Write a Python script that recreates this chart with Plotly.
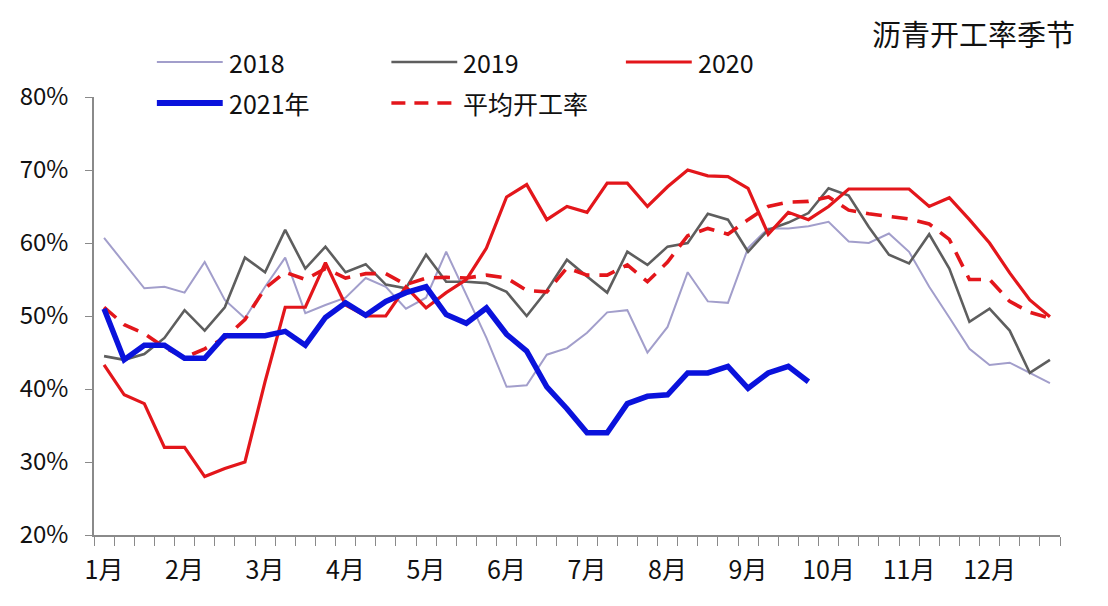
import plotly.graph_objects as go
import numpy as np

# ---- data ----
weeks = list(range(48))
month_labels = ["1月", "2月", "3月", "4月", "5月", "6月", "7月", "8月", "9月", "10月", "11月", "12月"]
month_pos = [0, 4, 8, 12, 16, 20, 24, 28, 32, 36, 40, 44]
y_ticks = [20, 30, 40, 50, 60, 70, 80]
y_tick_labels = ["20%", "30%", "40%", "50%", "60%", "70%", "80%"]

y2018 = [60.7, 57.2, 53.8, 54.0, 53.2, 57.4, 52.2, 49.7, 54.0, 58.0, 50.4, 51.5,
         52.5, 55.2, 54.0, 51.0, 52.5, 58.8, 53.0, 47.0, 40.3, 40.5, 44.7, 45.6,
         47.7, 50.5, 50.8, 45.0, 48.5, 56.0, 52.0, 51.8, 59.3, 62.0, 62.0, 62.3,
         62.9, 60.2, 60.0, 61.3, 58.8, 54.0, 49.8, 45.5, 43.3, 43.6, 42.2, 40.8]
y2019 = [44.5, 44.0, 44.8, 47.0, 50.8, 48.0, 51.2, 58.0, 56.0, 61.8, 56.5, 59.5,
         56.0, 57.1, 54.3, 53.8, 58.4, 54.7, 54.7, 54.5, 53.3, 50.0, 53.5, 57.7,
         55.4, 53.2, 58.8, 57.0, 59.5, 60.0, 64.0, 63.2, 58.8, 61.8, 62.8, 64.1,
         67.5, 66.5, 62.2, 58.4, 57.2, 61.2, 56.5, 49.2, 51.0, 48.0, 42.2, 44.0]
y2020 = [43.3, 39.2, 38.0, 32.0, 32.0, 28.0, 29.1, 30.0, 41.0, 51.2, 51.2, 57.3,
         51.5, 50.0, 50.0, 54.0, 51.1, 53.2, 55.0, 59.3, 66.3, 68.0, 63.2, 65.0,
         64.2, 68.2, 68.2, 65.0, 67.7, 70.0, 69.2, 69.1, 67.5, 61.2, 64.2, 63.2,
         65.0, 67.4, 67.4, 67.4, 67.4, 65.0, 66.2, 63.2, 60.0, 55.9, 52.2, 49.9]
y2021 = [51.0, 44.0, 46.0, 46.0, 44.2, 44.2, 47.3, 47.3, 47.3, 47.9, 46.0, 49.8,
         51.8, 50.1, 52.0, 53.2, 54.0, 50.2, 49.0, 51.1, 47.5, 45.2, 40.3, 37.3,
         34.0, 34.0, 38.0, 39.0, 39.2, 42.2, 42.2, 43.1, 40.1, 42.2, 43.1, 41.0]
y_avg = [51.2, 48.8, 47.6, 45.7, 44.3, 45.5, 47.0, 49.5, 53.8, 56.0, 55.0, 56.5,
         55.2, 55.8, 55.8, 54.3, 55.2, 55.3, 55.2, 55.6, 55.2, 53.5, 53.3, 56.6,
         55.6, 55.6, 57.0, 54.7, 57.4, 61.0, 62.0, 61.2, 63.2, 65.0, 65.6, 65.7,
         66.3, 64.5, 64.0, 63.6, 63.3, 62.6, 60.5, 55.0, 55.0, 52.0, 50.5, 49.7]

names = ["2018", "2019", "2020", "2021年", "平均开工率"]
colors = ["#A29ECB", "#5E5E5E", "#E3161B", "#0A12DC", "#E3161B"]
widths = [2, 2.6, 3.2, 5.5, 3.6]
dashes = ["solid", "solid", "solid", "solid", "16px,10px"]
series = [y2018, y2019, y2020, y2021, y_avg]

FONT = "Noto Sans CJK SC"
OFF = 8  # page body margin
W, H = 1108 - OFF, 606 - OFF
L, R, T, B = 92 - OFF, 48, 97 - OFF, 71
PW, PH = W - L - R, H - T - B

def px(x):
    return (x - OFF - L) / PW

def py(y):
    return (H - B - (y - OFF)) / PH

fig = go.Figure()
order = [0, 1, 2, 4, 3]
for k in order:
    ys = series[k]
    fig.add_trace(go.Scatter(
        x=weeks[:len(ys)], y=ys, mode="lines", name=names[k],
        line=dict(color=colors[k], width=widths[k], dash=dashes[k]),
        showlegend=False, hoverinfo="skip"))

# manual legend
legend_layout = [(155, 62), (390, 62), (625, 62), (155, 103), (390, 103)]
shapes = []
annotations = []
for k, (lx, ly) in enumerate(legend_layout):
    shapes.append(dict(type="line", xref="paper", yref="paper",
                       x0=px(lx), x1=px(lx + 66), y0=py(ly), y1=py(ly),
                       line=dict(color=colors[k], width=widths[k] if k != 3 else 6,
                                 dash=dashes[k] if k != 4 else "14px,9px")))
    annotations.append(dict(xref="paper", yref="paper", x=px(lx + 70), y=py(ly),
                            text=names[k], showarrow=False, xanchor="left", yanchor="middle",
                            font=dict(family=FONT, size=25, color="#111111")))

annotations.append(dict(xref="paper", yref="paper", x=px(1077), y=py(33),
                        text="沥青开工率季节", showarrow=False, xanchor="right", yanchor="middle",
                        font=dict(family=FONT, size=29, color="#111111")))

fig.update_layout(
    width=W, height=H,
    margin=dict(l=L, r=R, t=T, b=B),
    paper_bgcolor="white", plot_bgcolor="white",
    shapes=shapes, annotations=annotations,
    showlegend=False,
    xaxis=dict(
        range=[-0.5, 47.5], tickmode="array", tickvals=month_pos, ticktext=month_labels,
        ticks="", showgrid=False, zeroline=False,
        showline=True, linecolor="#8A8A8A", linewidth=1.5,
        tickfont=dict(family=FONT, size=25, color="#111111"),
        ticklabelstandoff=12,
        minor=dict(tickmode="array", tickvals=list(np.arange(-0.5, 48, 1.0)),
                   ticks="outside", ticklen=9, tickcolor="#8A8A8A", tickwidth=1, showgrid=False),
    ),
    yaxis=dict(
        range=[20, 80], tickmode="array", tickvals=y_ticks, ticktext=y_tick_labels,
        ticks="outside", ticklen=7, tickcolor="#8A8A8A",
        showgrid=False, zeroline=False,
        showline=True, linecolor="#8A8A8A", linewidth=1.5,
        tickfont=dict(family=FONT, size=24, color="#111111"),
        ticklabelstandoff=12,
    ),
)

fig.write_html("out.html")
